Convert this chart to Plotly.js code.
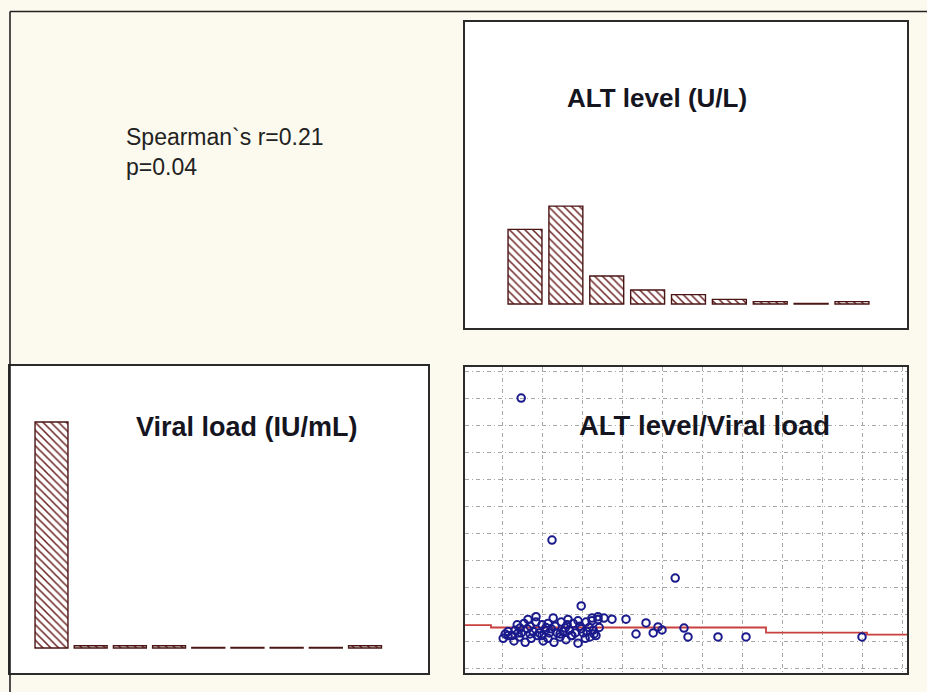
<!DOCTYPE html>
<html>
<head>
<meta charset="utf-8">
<script src="https://cdn.plot.ly/plotly-3.0.1.min.js"></script>
<style>html,body{margin:0;padding:0;background:#fcf9ee;}#chart{width:927px;height:692px;}</style>
</head>
<body>
<div id="chart"></div>
<script>
// ---- Histogram: ALT level (U/L) ----
const altBins = [0, 1, 2, 3, 4, 5, 6, 7, 8];
const altCounts = [32, 42, 12, 6, 4, 2, 1, 0, 1];

// ---- Histogram: Viral load (IU/mL) ----
const vlBins = [0, 1, 2, 3, 4, 5, 6, 7, 8];
const vlCounts = [97, 1, 1, 1, 0, 0, 0, 0, 1];

// ---- Scatter: ALT level / Viral load (grid units, no tick labels in source) ----
const scatterX = [
  0.48, 1.25, 4.33, 1.98, 2.75, 3.10, 3.35, 3.60, 3.78, 3.90, 4.00, 4.55, 4.65, 5.40, 6.10, 9.00,
  0.03, 0.15, 0.30, 0.43, 0.58, 0.73, 0.88, 1.03, 1.15, 1.30, 1.45, 1.60, 1.75, 1.90, 2.08, 2.20, 2.35,
  0.08, 0.25, 0.40, 0.70, 1.00, 1.18, 1.45, 1.73, 2.03, 2.30,
  0.15, 0.33, 0.48, 0.63, 0.78, 0.93, 1.08, 1.23, 1.38, 1.53, 1.68, 1.83, 1.98, 2.13, 2.28, 2.43,
  0.45, 1.10, 1.58, 2.18,
  0.38, 0.55, 0.70, 0.85, 1.00, 1.15, 1.33, 1.48, 1.63, 1.78, 1.95, 2.10, 2.25, 2.40,
  0.65, 0.85, 1.28, 1.65, 1.90, 2.25, 2.40, 2.55
];
const scatterY = [
  10.0, 4.74, 3.33, 2.30, 1.81, 1.81, 1.26, 1.67, 1.30, 1.52, 1.41, 1.48, 1.15, 1.15, 1.15, 1.15,
  1.10, 1.20, 1.00, 1.15, 0.95, 1.10, 1.20, 1.00, 1.10, 0.95, 1.15, 1.05, 1.20, 0.92, 1.10, 1.15, 1.20,
  1.26, 1.20, 1.30, 1.26, 1.20, 1.30, 1.26, 1.20, 1.30, 1.26,
  1.35, 1.40, 1.30, 1.45, 1.35, 1.30, 1.40, 1.45, 1.30, 1.35, 1.40, 1.30, 1.45, 1.35, 1.40, 1.50,
  1.48, 1.50, 1.48, 1.50,
  1.60, 1.65, 1.55, 1.70, 1.60, 1.65, 1.55, 1.70, 1.60, 1.65, 1.55, 1.70, 1.75, 1.80,
  1.80, 1.90, 1.85, 1.80, 1.75, 1.85, 1.90, 1.85
];

// ---- Step smoothing line ----
const stepX = [-0.925, -0.275, 6.60, 9.125, 10.125];
const stepY = [1.59, 1.50, 1.31, 1.24, 1.24];

const titles = ['ALT level (U/L)', 'Viral load (IU/mL)', 'ALT level/Viral load'];
const statLines = ['Spearman`s r=0.21', 'p=0.04'];

const hatch = {
  color: '#ffffff',
  line: {color: '#4a1515', width: 1.4},
  pattern: {shape: '\\', fgcolor: '#6a2222', bgcolor: '#ffffff', size: 5.5, solidity: 0.28}
};
const shown = a => a.map(v => Math.max(v, 0.25));

const traces = [
  {type: 'bar', x: altBins, y: shown(altCounts), width: 0.83, marker: hatch,
   xaxis: 'x', yaxis: 'y', hoverinfo: 'skip'},
  {type: 'bar', x: vlBins, y: shown(vlCounts), width: 0.84, marker: hatch,
   xaxis: 'x2', yaxis: 'y2', hoverinfo: 'skip'},
  {type: 'scatter', mode: 'lines', x: stepX, y: stepY, line: {color: '#c8413f', width: 1.8, shape: 'hv'},
   xaxis: 'x3', yaxis: 'y3', hoverinfo: 'skip'},
  {type: 'scatter', mode: 'markers', x: scatterX, y: scatterY,
   marker: {symbol: 'circle-open', size: 7.5, color: '#1a1a8c', line: {width: 2, color: '#1a1a8c'}},
   xaxis: 'x3', yaxis: 'y3', hoverinfo: 'skip'}
];

const W = 927, H = 692;
const px = v => v / W, py = v => 1 - v / H;
const frame = {showline: true, mirror: true, linecolor: '#2b2b2b', linewidth: 1.6,
  showgrid: false, zeroline: false, showticklabels: false, ticks: '', fixedrange: true};
const gridAx = Object.assign({}, frame, {showgrid: true, gridcolor: '#a8a8a8', gridwidth: 1,
  griddash: '4px,3px,1px,3px', dtick: 1, tick0: 0});

const fam = 'Liberation Sans, Arial, sans-serif';

const layout = {
  width: W, height: H,
  margin: {l: 0, r: 0, t: 0, b: 0},
  paper_bgcolor: '#fcf9ee', plot_bgcolor: '#ffffff',
  showlegend: false,
  xaxis: Object.assign({}, frame, {domain: [px(465), px(907)], range: [-1.468, 9.346], anchor: 'y'}),
  yaxis: Object.assign({}, frame, {domain: [py(328), py(22)], range: [-10.3, 121.0], anchor: 'x'}),
  xaxis2: Object.assign({}, frame, {domain: [px(10), px(428)], range: [-1.059, 9.607], anchor: 'y2'}),
  yaxis2: Object.assign({}, frame, {domain: [py(673), py(366)], range: [-10.7, 121.0], anchor: 'x2'}),
  xaxis3: Object.assign({}, gridAx, {domain: [px(465), px(907)], range: [-0.925, 10.125], anchor: 'y3'}),
  yaxis3: Object.assign({}, gridAx, {domain: [py(673), py(367)], range: [-0.185, 11.15], anchor: 'x3'}),
  annotations: [
    {text: '<b>' + titles[0] + '</b>', xref: 'paper', yref: 'paper', x: px(657), y: py(98),
     xanchor: 'center', yanchor: 'middle', showarrow: false, font: {family: fam, size: 26, color: '#15151f'}},
    {text: '<b>' + titles[1] + '</b>', xref: 'paper', yref: 'paper', x: px(247), y: py(427),
     xanchor: 'center', yanchor: 'middle', showarrow: false, font: {family: fam, size: 27, color: '#15151f'}},
    {text: '<b>' + titles[2] + '</b>', xref: 'paper', yref: 'paper', x: px(704), y: py(425),
     xanchor: 'center', yanchor: 'middle', showarrow: false, font: {family: fam, size: 27.5, color: '#15151f'}},
    {text: statLines.join('<br>'), xref: 'paper', yref: 'paper', x: px(124), y: py(152),
     xanchor: 'left', yanchor: 'middle', align: 'left', showarrow: false,
     font: {family: fam, size: 23, color: '#222222'}}
  ],
  shapes: [
    {type: 'line', xref: 'paper', yref: 'paper', x0: px(10), x1: 1, y0: py(11.5), y1: py(11.5),
     line: {color: '#222222', width: 1.6}},
    {type: 'line', xref: 'paper', yref: 'paper', x0: px(10), x1: px(10), y0: py(11.5), y1: 0,
     line: {color: '#222222', width: 1.6}}
  ]
};

Plotly.newPlot('chart', traces, layout, {displayModeBar: false, staticPlot: true});
</script>
</body>
</html>
